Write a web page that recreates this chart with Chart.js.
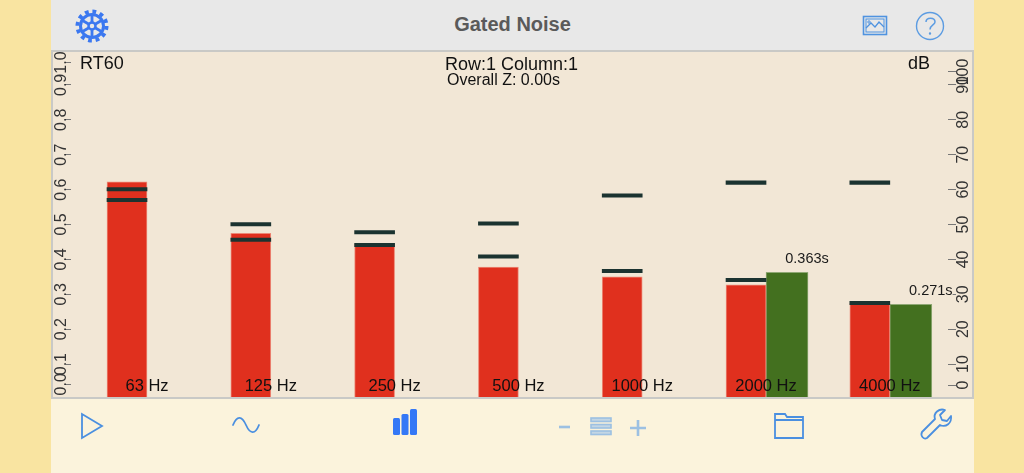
<!DOCTYPE html>
<html>
<head>
<meta charset="utf-8">
<title>Gated Noise</title>
<script src="https://cdn.jsdelivr.net/npm/chart.js@4"></script>
<style>
  html, body { margin:0; padding:0; width:1024px; height:473px; overflow:hidden; background:#f9e4a1; font-family:"Liberation Sans",sans-serif; }
  #plot { position:absolute; left:51px; top:50px; width:922px; height:349px; background:#f2e7d6; }
  canvas { position:absolute; left:0; top:0; }
  #header { position:absolute; left:51px; top:0; width:923px; height:50px; background:#e8e8e8; border-bottom:2px solid #c9c9c6; box-sizing:content-box; }
  #footer { position:absolute; left:51px; top:397px; width:923px; height:76px; background:#fbf3dc; border-top:2px solid #c9c9c6; box-sizing:border-box; }
  .side { position:absolute; top:50px; width:2px; height:348px; background:#c9c9c6; }
  #title { position:absolute; left:0; width:923px; top:13px; text-align:center; font-size:20px; font-weight:bold; color:#5a5a5a; }
  .lbl { position:absolute; color:#111; font-size:18px; white-space:nowrap; }
  svg { position:absolute; overflow:visible; }
</style>
</head>
<body>
<div id="plot"></div>
<canvas id="rtChart" width="1024" height="473"></canvas>
<div class="side" style="left:51px"></div>
<div class="side" style="left:972px"></div>
<div id="header">
  <div id="title">Gated Noise</div>
  <svg style="left:41px;top:26px" width="1" height="1" fill="none" stroke="#3b78f0">
    <circle r="14.5" stroke-width="4" stroke-dasharray="3.8 3.79"/>
    <circle r="11.5" stroke-width="3"/>
    <circle r="3.5" stroke-width="2.5"/>
    <path d="M0-11V-3.5M0 11V3.5M-9.5-5.5L-3-1.8M9.5 5.5L3 1.8M-9.5 5.5L-3 1.8M9.5-5.5L3-1.8" stroke-width="2.8"/>
  </svg>
  <svg style="left:812px;top:16px" width="1" height="1" fill="none" stroke="#4f93e0">
    <rect x="0.5" y="0.5" width="23" height="18" stroke-width="1.6"/>
    <rect x="3" y="3" width="18" height="13" stroke-width="1"/>
    <path d="M3 12L8 7L12 11L16 6L21 11" stroke-width="1.3"/>
    <circle cx="6" cy="6" r="1.2" stroke-width="1"/>
  </svg>
  <svg style="left:879px;top:26px" width="1" height="1" fill="none" stroke="#5c9ce2">
    <circle r="13.5" stroke-width="1.4"/>
    <path d="M-4-4C-4-9 5-9 5-4C5-1 0-1 0 3.5" stroke-width="1.5"/>
    <circle cy="7.5" r="0.6" stroke-width="1.2"/>
  </svg>
</div>
<div class="lbl" style="left:80px;top:53px">RT60</div>
<div class="lbl" style="left:445px;top:54px">Row:1 Column:1</div>
<div class="lbl" style="left:447px;top:71px;font-size:16px">Overall Z: 0.00s</div>
<div class="lbl" style="left:908px;top:53px">dB</div>
<div id="footer">
  <svg style="left:30px;top:14px" width="1" height="1" fill="none" stroke="#4a8fe0" stroke-width="1.8">
    <path d="M1 1L1 25L21 13Z"/>
  </svg>
  <svg style="left:181px;top:17px" width="1" height="1" fill="none" stroke="#4a8fe0" stroke-width="1.8" stroke-linecap="round">
    <path d="M1 9C5-1 10 0 14 9S23 19 27 9"/>
  </svg>
  <svg style="left:342px;top:10px" width="1" height="1" fill="#3478f6">
    <rect x="0" y="9" width="7" height="17" rx="1.5"/>
    <rect x="8.5" y="5" width="7" height="21" rx="1.5"/>
    <rect x="17" y="0" width="7" height="26" rx="1.5"/>
  </svg>
  <svg style="left:508px;top:19px" width="1" height="1" fill="none" stroke="#9cc0e2" stroke-width="2.6">
    <path d="M0 9H11"/>
    <path d="M71 10H87M79 2V18"/>
    <g stroke-width="1.6" fill="#c3d6e4">
      <rect x="32" y="0" width="20" height="3.5"/>
      <rect x="32" y="6.5" width="20" height="3.5"/>
      <rect x="32" y="13" width="20" height="3.5"/>
    </g>
  </svg>
  <svg style="left:723px;top:13px" width="1" height="1" fill="none" stroke="#4a8fe0" stroke-width="1.8">
    <path d="M1 2H11L13 5H29V26H1ZM1 8H29"/>
  </svg>
  <svg style="left:870px;top:11px" width="1" height="1" fill="none" stroke="#4a8fe0" stroke-width="1.8" stroke-linejoin="round">
    <path d="M1 22L14 9C12 3 18-2 24 0L19 5L21 10L26 11L30 6C31 13 25 18 19 15L6 28C3 30-1 26 1 22Z"/>
  </svg>
</div>
<script>
const categories = ['63 Hz', '125 Hz', '250 Hz', '500 Hz', '1000 Hz', '2000 Hz', '4000 Hz'];
const rt60Values = [0.622, 0.475, 0.444, 0.378, 0.350, 0.327, 0.275];
const upperMarks = [0.601, 0.501, 0.478, 0.503, 0.583, 0.620, 0.620];
const lowerMarks = [0.570, 0.456, 0.441, 0.408, 0.367, 0.341, 0.275];
const measuredValues = [null, null, null, null, null, 0.363, 0.271];
const measuredLabels = [null, null, null, null, null, '0.363s', '0.271s'];

// the app pulls its 0 and top ticks inward, so label and tick position differ there
const leftTickLabels = ['0.0', '0.1', '0.2', '0.3', '0.4', '0.5', '0.6', '0.7', '0.8', '0.9', '1.0'];
const leftTickValues = [0.042, 0.1, 0.2, 0.3, 0.4, 0.5, 0.6, 0.7, 0.8, 0.9, 0.964];
const rightTickLabels = ['0', '10', '20', '30', '40', '50', '60', '70', '80', '90', '100'];
const rightTickValues = [4, 10, 20, 30, 40, 50, 60, 70, 80, 90, 93.7];

const MARK_HALF = 0.0048;
const TICK_FONT = { family: 'Liberation Sans', size: 16 };

function toXY(values) { return values.map((v, i) => ({ x: i, y: v })); }
function toMark(values) { return values.map((v, i) => ({ x: i, y: [v - MARK_HALF, v + MARK_HALF] })); }

function markDataset(values) {
  return { data: toMark(values), stack: 'rt', backgroundColor: '#1b3330', barThickness: 40, yAxisID: 'yL', order: 1 };
}

function yAxis(position, values, labels, max, tickLen, width, pad) {
  return {
    position, min: 0, max,
    stacked: false,
    afterBuildTicks: scale => { scale.ticks = values.map(v => ({ value: v })); },
    afterFit: scale => { scale.width = width; },
    grid: { drawOnChartArea: false, tickLength: tickLen, tickColor: '#777', tickWidth: 1 },
    border: { display: false },
    ticks: {
      callback: (v, i) => labels[i],
      autoSkip: false, minRotation: 90, maxRotation: 90, crossAlign: 'center', padding: pad,
      font: TICK_FONT, color: '#333',
    },
  };
}

/** Draws the "0.363s" style captions above the green bars. */
const valueLabels = {
  id: 'valueLabels',
  afterDatasetsDraw(chart) {
    const ctx = chart.ctx;
    const bars = chart.getDatasetMeta(3).data;
    ctx.save();
    ctx.font = '14.5px "Liberation Sans"';
    ctx.textAlign = 'center';
    ctx.textBaseline = 'bottom';
    measuredLabels.forEach((text, i) => {
      if (!text) return;
      const w = ctx.measureText(text).width;
      const x = bars[i].x + 20, y = bars[i].y - 6;
      ctx.fillStyle = '#f2e7d6';
      ctx.fillRect(x - w / 2, y - 15, w, 14);
      ctx.fillStyle = '#1a1a1a';
      ctx.fillText(text, x, y);
    });
    ctx.restore();
  },
};

new Chart(document.getElementById('rtChart'), {
  type: 'bar',
  data: {
    datasets: [
      { data: toXY(rt60Values), stack: 'rt', backgroundColor: '#e0301e', borderColor: '#ec8a78', borderWidth: 1, barThickness: 40, yAxisID: 'yL', order: 2 },
      markDataset(upperMarks),
      markDataset(lowerMarks),
      { data: toXY(measuredValues), stack: 'measured', backgroundColor: '#43701f', borderColor: '#8fa874', borderWidth: 1, barThickness: 42, yAxisID: 'yL', order: 2 },
    ],
  },
  options: {
    responsive: false,
    animation: false,
    layout: { padding: { left: 52, right: 51, top: 50, bottom: 74 } },
    plugins: { legend: { display: false }, tooltip: { enabled: false } },
    scales: {
      x: {
        type: 'linear', min: -0.614, max: 6.47, offset: false,
        afterBuildTicks: scale => { scale.ticks = categories.map((c, i) => ({ value: i })); },
        afterFit: scale => { scale.height = 0; },
        grid: { display: false },
        border: { display: false },
        ticks: {
          callback: v => categories[v],
          autoSkip: false, minRotation: 0, maxRotation: 0, mirror: true, padding: 3,
          font: { family: 'Liberation Sans', size: 16.5 }, color: '#111', z: 5,
        },
      },
      yL: yAxis('left', leftTickValues, leftTickLabels, 1, 5, 19, -7),
      yR: yAxis('right', rightTickValues, rightTickLabels, 100, 8, 25, -6),
    },
  },
  plugins: [valueLabels],
});
</script>
</body>
</html>
